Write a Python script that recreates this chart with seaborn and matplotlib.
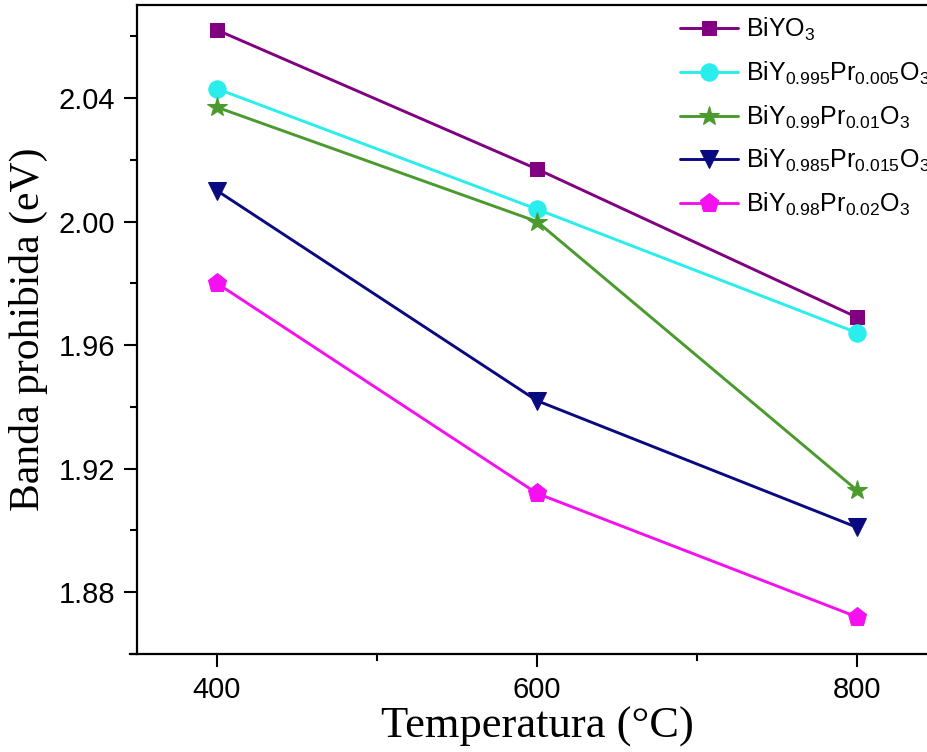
import matplotlib
matplotlib.use("Agg")
import matplotlib.pyplot as plt
import seaborn as sns
import pandas as pd

# Band gap vs. calcination temperature for Pr-doped BiYO3
temperatures = [400, 600, 800]
compounds = [
    r"BiYO$_3$",
    r"BiY$_{0.995}$Pr$_{0.005}$O$_3$",
    r"BiY$_{0.99}$Pr$_{0.01}$O$_3$",
    r"BiY$_{0.985}$Pr$_{0.015}$O$_3$",
    r"BiY$_{0.98}$Pr$_{0.02}$O$_3$",
]
gap_biyo3 = [2.062, 2.017, 1.969]
gap_pr0005 = [2.043, 2.004, 1.964]
gap_pr001 = [2.037, 2.000, 1.913]
gap_pr0015 = [2.010, 1.942, 1.901]
gap_pr002 = [1.980, 1.912, 1.872]
gaps = [gap_biyo3, gap_pr0005, gap_pr001, gap_pr0015, gap_pr002]

colors = ["#800080", "#2AEEEE", "#4A9A2E", "#0A0A80", "#F510F0"]
markers = ["s", "o", "*", "v", "p"]
marker_sizes = [10, 12.5, 15, 13, 14]

y_ticks = [1.88, 1.92, 1.96, 2.00, 2.04]
x_ticks = [400, 600, 800]

df = pd.DataFrame(
    [(t, g, c) for c, vals in zip(compounds, gaps) for t, g in zip(temperatures, vals)],
    columns=["T", "Eg", "compound"],
)

sns.set_style("ticks")
plt.rcParams["font.family"] = ["Liberation Sans", "DejaVu Sans"]
plt.rcParams["mathtext.fontset"] = "custom"
plt.rcParams["mathtext.rm"] = "Liberation Sans"
plt.rcParams["mathtext.it"] = "Liberation Sans:italic"
plt.rcParams["mathtext.default"] = "regular"
plt.rcParams["text.color"] = "black"
plt.rcParams["axes.labelcolor"] = "black"
plt.rcParams["xtick.color"] = "black"
plt.rcParams["ytick.color"] = "black"

fig = plt.figure(figsize=(9.27, 7.52), dpi=100)
ax = fig.add_axes([137 / 927, 98 / 752, 800 / 927, 649 / 752])

for comp, col, mk, ms in zip(compounds, colors, markers, marker_sizes):
    sub = df[df["compound"] == comp]
    sns.lineplot(
        data=sub, x="T", y="Eg", ax=ax, color=col, marker=mk, markersize=ms,
        markeredgecolor=col, linewidth=2.1, label=comp, legend=False,
    )

ax.set_xlim(350, 850)
ax.set_ylim(1.8603, 2.0701)
ax.set_xticks(x_ticks)
ax.set_xticks([500, 700], minor=True)
ax.set_yticks(y_ticks)
ax.set_yticklabels([f"{v:.2f}" for v in y_ticks])
ax.set_yticks([1.86, 1.90, 1.94, 1.98, 2.02, 2.06], minor=True)

ax.tick_params(axis="both", which="major", direction="out", length=9.5, width=1.5,
               labelsize=21, pad=6, color="black", labelcolor="black")
ax.tick_params(axis="both", which="minor", direction="out", length=5, width=1.5,
               color="black")

for side in ["left", "bottom", "top", "right"]:
    ax.spines[side].set_linewidth(1.6)
    ax.spines[side].set_color("black")
ax.spines["bottom"].set_bounds(345.6, 850)

ax.set_xlabel("Temperatura (°C)", fontsize=32, family="Liberation Serif", labelpad=2)
ax.set_ylabel("Banda prohibida (eV)", fontsize=30, family="Liberation Serif", labelpad=8)

handles, labels = ax.get_legend_handles_labels()
ax.legend(
    handles, labels, loc="upper left", bbox_to_anchor=(680 / 927, 736 / 752),
    bbox_transform=fig.transFigure, frameon=False, fontsize=18, borderpad=0,
    handlelength=2.3, handletextpad=0.32, labelspacing=0.66, borderaxespad=0,
)

fig.savefig("out.png", dpi=100)
